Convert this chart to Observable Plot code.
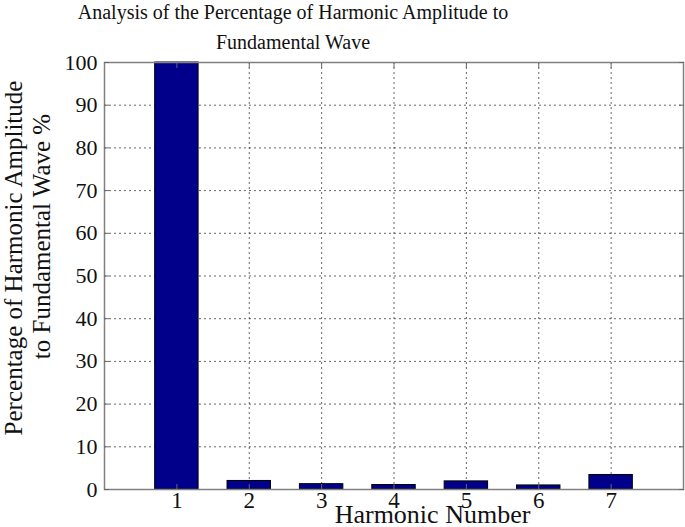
<!DOCTYPE html>
<html>
<head>
<meta charset="utf-8">
<script src="https://cdn.jsdelivr.net/npm/d3@7"></script>
<script src="https://cdn.jsdelivr.net/npm/@observablehq/plot@0.6"></script>
<style>
  html, body { margin: 0; padding: 0; background: #fff; }
  #wrap { position: relative; width: 685px; height: 527px; font-family: "Liberation Serif", "DejaVu Serif", serif; }
  #title { position: absolute; z-index: 2; left: 0; top: -3px; width: 586px; text-align: center; font-size: 20px; line-height: 30px; color: #111; }
  #chart { position: absolute; z-index: 1; left: 0; top: 45px; }
</style>
</head>
<body>
<div id="wrap">
  <div id="title">Analysis of the Percentage of Harmonic Amplitude to<br>Fundamental Wave</div>
  <div id="chart"></div>
</div>
<script>
const harmonics = [1, 2, 3, 4, 5, 6, 7];
const percents = [100, 2.0, 1.25, 1.05, 1.9, 0.95, 3.4];
const xTicks = [1, 2, 3, 4, 5, 6, 7];
const yTicks = [0, 10, 20, 30, 40, 50, 60, 70, 80, 90, 100];
const xLabel = "Harmonic Number";
const yLabel1 = "Percentage of Harmonic Amplitude";
const yLabel2 = "to Fundamental Wave %";

const data = harmonics.map((h, i) => ({h, v: percents[i]}));
const halfWidth = 0.3;

const chart = Plot.plot({
  width: 685,
  height: 482,
  marginLeft: 104,
  marginRight: 2,
  marginTop: 17,
  marginBottom: 38,
  style: {fontFamily: "Liberation Serif, serif", fontSize: "20px", color: "#111", background: "transparent", overflow: "visible"},
  x: {domain: [0, 8], ticks: xTicks},
  y: {domain: [0, 100], ticks: yTicks},
  marks: [
    Plot.gridX(xTicks, {stroke: "#000", strokeOpacity: 0.6, strokeDasharray: "2,3"}),
    Plot.gridY(yTicks.filter(t => t > 0 && t < 100), {stroke: "#000", strokeOpacity: 0.6, strokeDasharray: "2,3"}),
    Plot.rectY(data, {x1: d => d.h - halfWidth, x2: d => d.h + halfWidth, y1: 0, y2: "v", fill: "#00008b", stroke: "#000", strokeWidth: 1}),
    Plot.frame({stroke: "#808080", strokeWidth: 1.5}),
    Plot.axisY(yTicks, {anchor: "left", tickSize: 0, tickPadding: 7, label: null, fontSize: 22}),
    Plot.axisY(yTicks, {anchor: "left", tickSize: 5, dx: 5, text: null, label: null, stroke: "#666"}),
    Plot.axisY(yTicks, {anchor: "right", tickSize: 5, dx: -5, text: null, label: null, stroke: "#666"}),
    Plot.axisX(xTicks, {anchor: "bottom", tickSize: 0, tickPadding: 2, label: null, fontSize: 23}),
    Plot.axisX(xTicks, {anchor: "bottom", tickSize: 5, dy: -5, text: null, label: null, stroke: "#666"}),
    Plot.axisX(xTicks, {anchor: "top", tickSize: 5, dy: 5, text: null, label: null, stroke: "#666"}),
    Plot.text([xLabel], {frameAnchor: "bottom", textAnchor: "middle", lineAnchor: "middle", dx: 38.5, dy: 25, fontSize: 26}),
    Plot.text([yLabel1], {frameAnchor: "left", textAnchor: "middle", lineAnchor: "middle", rotate: -90, dx: -91, dy: -18, fontSize: 25}),
    Plot.text([yLabel2], {frameAnchor: "left", textAnchor: "middle", lineAnchor: "middle", rotate: -90, dx: -63, dy: -39.5, fontSize: 25})
  ]
});
document.getElementById("chart").appendChild(chart);
</script>
</body>
</html>
